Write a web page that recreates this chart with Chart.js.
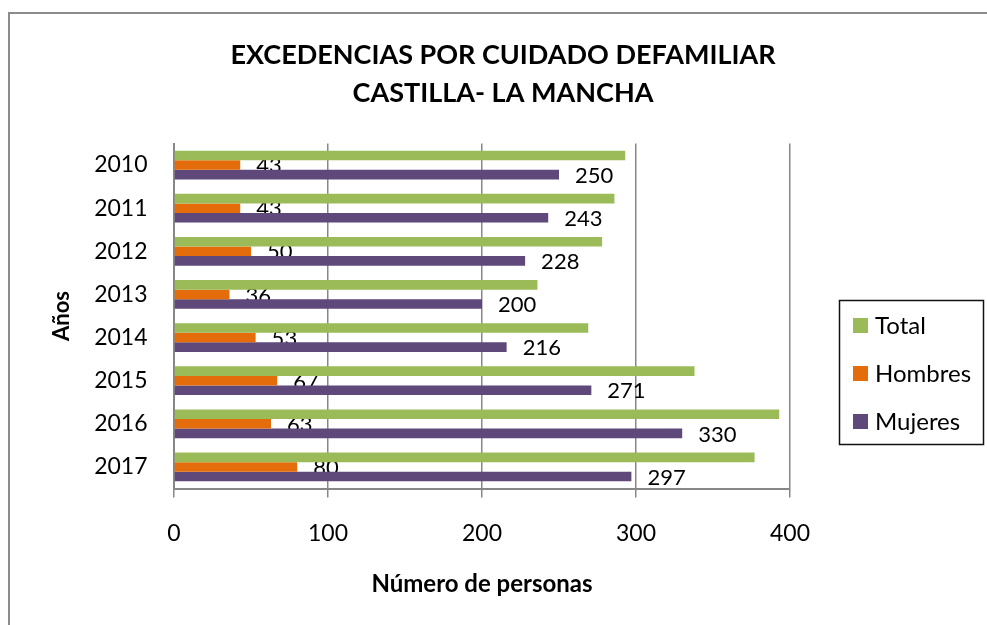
<!DOCTYPE html>
<html>
<head>
<meta charset="utf-8">
<script src="https://cdn.jsdelivr.net/npm/chart.js@4"></script>
<style>
  body { margin: 0; background: #fff; }
  #wrap { position: relative; width: 987px; height: 625px; }
  #frame { position: absolute; left: 8px; top: 12px; right: -4px; bottom: -4px; border-top: 2px solid #8c8c8c; border-left: 2px solid #8c8c8c; }
  canvas { position: absolute; left: 0; top: 0; }
</style>
</head>
<body>
<div id="wrap">
  <div id="frame"></div>
  <canvas id="chart" width="987" height="625"></canvas>
</div>
<script>
// data
const years = ['2010', '2011', '2012', '2013', '2014', '2015', '2016', '2017'];
const hombres = [43, 43, 50, 36, 53, 67, 63, 80];
const mujeres = [250, 243, 228, 200, 216, 271, 330, 297];
const total = [293, 286, 278, 236, 269, 338, 393, 377];
const xTicks = [0, 100, 200, 300, 400];
const titleLines = ['EXCEDENCIAS POR CUIDADO DEFAMILIAR', 'CASTILLA- LA MANCHA'];

const FONT = 'Lato';
const gridColor = '#878787';

// value labels drawn before the bars so neighbouring bars cover them (like the original)
const valueLabels = {
  id: 'valueLabels',
  beforeDatasetsDraw(chart) {
    const ctx = chart.ctx;
    ctx.save();
    ctx.font = '22px ' + FONT;
    ctx.fillStyle = '#000';
    ctx.textAlign = 'left';
    ctx.textBaseline = 'middle';
    [1, 2].forEach(di => {
      const meta = chart.getDatasetMeta(di);
      meta.data.forEach((bar, i) => {
        ctx.fillText(chart.data.datasets[di].data[i], bar.x + 16, bar.y + 1);
      });
    });
    ctx.restore();
  }
};

// title + boxed legend
const decor = {
  id: 'decor',
  afterDraw(chart) {
    const ctx = chart.ctx;
    ctx.save();
    ctx.fillStyle = '#000';
    ctx.textAlign = 'center';
    ctx.textBaseline = 'middle';
    ctx.font = 'bold 27px ' + FONT;
    ctx.fillText(titleLines[0], 503, 55);
    ctx.fillText(titleLines[1], 503, 93);

    ctx.strokeStyle = '#111';
    ctx.lineWidth = 1.5;
    ctx.strokeRect(839.5, 300.5, 144, 144);
    ctx.font = '24px ' + FONT;
    ctx.textAlign = 'left';
    chart.data.datasets.forEach((ds, i) => {
      const y = 318 + i * 48;
      ctx.fillStyle = ds.backgroundColor;
      ctx.fillRect(853, y, 15, 15);
      ctx.fillStyle = '#000';
      ctx.fillText(ds.label, 875, y + 8.5);
    });
    ctx.restore();
  }
};

new Chart(document.getElementById('chart'), {
  type: 'bar',
  data: {
    labels: years,
    datasets: [
      { label: 'Total', data: total, backgroundColor: '#9BBB59' },
      { label: 'Hombres', data: hombres, backgroundColor: '#E46C0A' },
      { label: 'Mujeres', data: mujeres, backgroundColor: '#5F497A' }
    ]
  },
  options: {
    indexAxis: 'y',
    responsive: false,
    animation: false,
    categoryPercentage: 0.668,
    barPercentage: 1.0,
    layout: { padding: { top: 143.5, right: 197, bottom: 0, left: 0 } },
    plugins: {
      legend: { display: false },
      title: { display: false },
      tooltip: { enabled: false }
    },
    scales: {
      x: {
        min: xTicks[0],
        max: xTicks[xTicks.length - 1],
        afterBuildTicks: s => { s.ticks = xTicks.map(v => ({ value: v })); },
        afterFit: s => { s.height = 625 - 488.5; },
        grid: { color: gridColor, lineWidth: 1.5, tickLength: 9, tickColor: gridColor },
        border: { color: gridColor, width: 2 },
        ticks: { font: { family: FONT, size: 23 }, color: '#000', padding: 22, maxRotation: 0 },
        title: {
          display: true, text: 'Número de personas', color: '#000',
          font: { family: FONT, size: 24, weight: 'bold' },
          padding: { top: 26, bottom: 26 }
        }
      },
      y: {
        afterFit: s => { s.width = 174; },
        grid: { display: false, drawTicks: false },
        border: { color: gridColor, width: 2 },
        ticks: { font: { family: FONT, size: 23 }, color: '#000', padding: 26.5 },
        title: {
          display: true, text: 'Años', color: '#000',
          font: { family: FONT, size: 22, weight: 'bold' },
          padding: { top: 48.5, bottom: 48.5 }
        }
      }
    }
  },
  plugins: [valueLabels, decor]
});
</script>
</body>
</html>
